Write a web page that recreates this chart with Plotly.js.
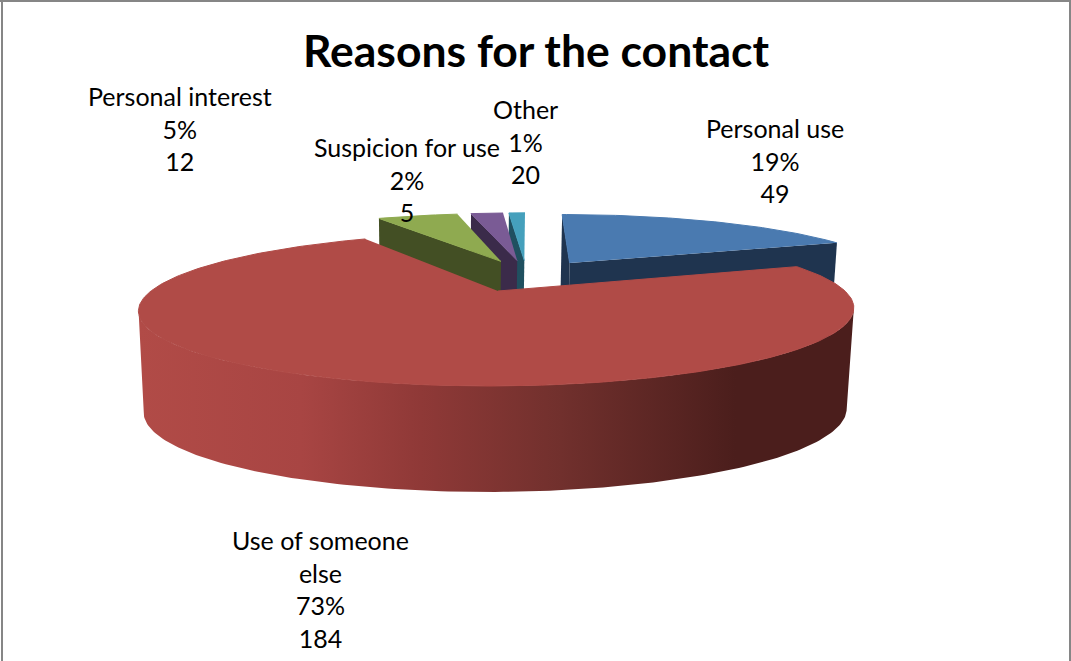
<!DOCTYPE html>
<html>
<head>
<meta charset="utf-8">
<script src="https://cdn.plot.ly/plotly-3.0.1.min.js"></script>
<style>html,body{margin:0;padding:0;background:#fff}#chart{width:1071px;height:661px}</style>
</head>
<body>
<div id="chart"></div>
<script>
// Survey results
const categories = ["Personal use", "Use of someone else", "Personal interest", "Suspicion for use", "Other"];
const labelNames = ["Personal use", "Use of someone<br>else", "Personal interest", "Suspicion for use", "Other"];
const percents = [19, 73, 5, 2, 1];
const counts = [49, 184, 12, 5, 20];

// Slice colours: top face and side wall
const topColors = ["#4a7ab0", "#b04b47", "#8faa50", "#7a5b95", "#45a0bc"];
const wallColors = ["#1f344f", "#4b1e1c", "#434f24", "#3b2b4a", "#205060"];
const labelAnchors = [[775, 160], [320, 588.5], [180, 128], [407, 179], [525, 141]];

// Perspective model of the tilted, extruded pie
const perspective = 0.242;
const vanishShift = 30;
const explode = 0.243;
const topDisc = {cx: 498, cy: 291, r: 347, ry: 72};
const bottomDisc = {cx: 497, cy: 391, r: 341, ry: 76.5};
const deg = Math.PI / 180;

function project(disc, px, py) {
  const s = 1 / (1 + perspective * py);
  return [disc.cx + vanishShift * (1 - s) + disc.r * px * s, disc.cy - disc.ry * py * s];
}

// Angular extent of each slice, clockwise from the back of the pie
const total = percents.reduce((a, b) => a + b, 0);
let running = 0;
const slices = percents.map((p, i) => {
  const start = running;
  running += p / total * 360;
  return {i, start, end: running, mid: (start + running) / 2};
});

// The largest slice is the drawing origin; every slice moves outward from the shared centre
const big = slices[1];
const centre = [-explode * Math.sin(big.mid * deg), -explode * Math.cos(big.mid * deg)];
slices.forEach(s => {
  s.ox = centre[0] + explode * Math.sin(s.mid * deg);
  s.oy = centre[1] + explode * Math.cos(s.mid * deg);
});

function rimPoint(s, disc, a) {
  return project(disc, s.ox + Math.sin(a * deg), s.oy + Math.cos(a * deg));
}
function arc(s, disc, a0, a1) {
  const n = Math.max(2, Math.ceil(Math.abs(a1 - a0)));
  const pts = [];
  for (let k = 0; k <= n; k++) pts.push(rimPoint(s, disc, a0 + (a1 - a0) * k / n));
  return pts;
}
function polygon(pts, color, extra) {
  return Object.assign({
    type: "scatter", mode: "lines", hoverinfo: "skip", showlegend: false,
    x: pts.map(p => p[0]), y: pts.map(p => p[1]),
    fill: "toself", fillcolor: color, line: {width: 0, color: color}
  }, extra || {});
}

// A cut face hangs below its top edge only if the slice's top lies above that edge on screen
function faceVisible(s, a) {
  const apex = project(topDisc, s.ox, s.oy);
  const rim = rimPoint(s, topDisc, a);
  const inner = rimPoint(s, topDisc, s.mid);
  const dx = rim[0] - apex[0];
  const lineY = apex[1] + (rim[1] - apex[1]) * (inner[0] - apex[0]) / (Math.abs(dx) < 1e-6 ? 1e-6 : dx);
  return inner[1] < lineY;
}

const traces = [];
function addSlice(s) {
  const apexT = project(topDisc, s.ox, s.oy);
  const apexB = project(bottomDisc, s.ox, s.oy);
  [s.start, s.end].forEach(a => {
    if (s.i !== big.i && faceVisible(s, a)) {
      traces.push(polygon([apexT, rimPoint(s, topDisc, a), rimPoint(s, bottomDisc, a), apexB], wallColors[s.i]));
    }
  });
  if (s.i === big.i) {
    // Curved front wall between the rim's two silhouette points, lit at the left and dark at the right
    const silhouette = Math.acos(-perspective) / deg;
    const wall = arc(s, topDisc, silhouette, 360 - silhouette).concat(arc(s, bottomDisc, 360 - silhouette, silhouette));
    traces.push(polygon(wall, wallColors[s.i], {
      fillgradient: {type: "horizontal", colorscale: [
        [0, "#b14b47"], [0.228, "#a84543"], [0.395, "#8f3937"],
        [0.59, "#71302d"], [0.835, "#4b1e1c"], [1, "#4b1e1c"]]}
    }));
  }
  // A hairline in the face colour closes the seam against the wall
  traces.push(polygon([apexT].concat(arc(s, topDisc, s.start, s.end)), topColors[s.i], {
    line: {width: 1, color: topColors[s.i]}
  }));
}

// Paint from the right-hand back slices towards the left, the large front slice last
[0, 4, 3, 2, 1].forEach(i => addSlice(slices[i]));

const annotations = categories.map((c, i) => ({
  x: labelAnchors[i][0], y: labelAnchors[i][1], xref: "x", yref: "y",
  text: labelNames[i] + "<br>" + percents[i] + "%<br>" + counts[i],
  showarrow: false, align: "center", xanchor: "center", yanchor: "middle",
  font: {family: "Lato, sans-serif", size: 25, color: "#000"}
}));

const frame = {type: "line", xref: "x", yref: "y", line: {color: "#868686", width: 2}};
const layout = {
  width: 1071, height: 661,
  margin: {l: 0, r: 0, t: 0, b: 0},
  paper_bgcolor: "#fff", plot_bgcolor: "#fff",
  showlegend: false,
  title: {
    text: "<b>Reasons for the contact</b>",
    x: 536 / 1071, xanchor: "center", y: 1 - 51 / 661, yanchor: "middle",
    font: {family: "Lato, sans-serif", size: 44.5, color: "#000"}
  },
  xaxis: {range: [0, 1071], visible: false, fixedrange: true},
  yaxis: {range: [661, 0], visible: false, fixedrange: true},
  shapes: [
    Object.assign({x0: 2, x1: 2, y0: 0, y1: 661}, frame),
    Object.assign({x0: 0, x1: 1071, y0: 1, y1: 1}, frame),
    Object.assign({x0: 1070, x1: 1070, y0: 0, y1: 661}, frame)
  ],
  annotations: annotations
};
Plotly.newPlot("chart", traces, layout, {displayModeBar: false, responsive: false});
</script>
</body>
</html>
